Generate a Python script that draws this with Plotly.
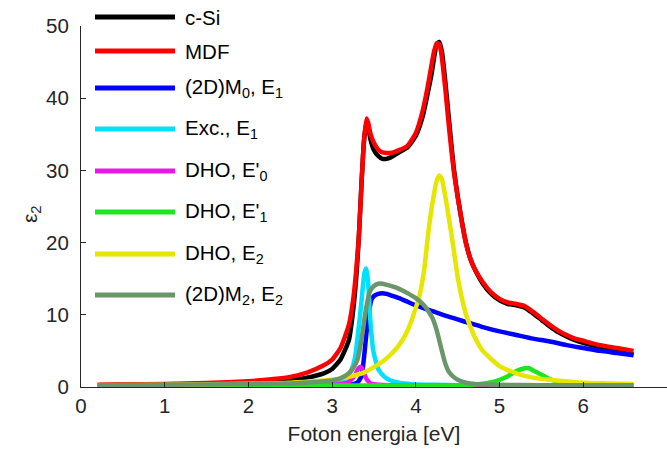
import plotly.graph_objects as go

# ---------------- data ----------------
x_mdf = [0.2,0.5,1.0,1.5,2.0,2.3,2.5,2.7,2.9,3.0,3.1,3.2,3.25,3.29,3.32,3.35,3.38,3.41,3.43,3.46,3.5,3.55,3.6,3.7,3.8,3.9,4.0,4.08,4.14,4.19,4.22,4.25,4.28,4.31,4.35,4.4,4.45,4.5,4.55,4.6,4.65,4.7,4.8,4.9,5.0,5.1,5.2,5.3,5.4,5.5,5.6,5.7,5.8,5.9,6.0,6.2,6.4,6.6]
y_mdf = [0.3,0.35,0.4,0.55,0.8,1.1,1.4,2.0,3.0,3.8,5.4,8.6,12.0,16.5,21.0,28.0,34.0,37.2,36.6,35.0,33.8,32.9,32.5,32.4,32.8,33.4,35.2,38.2,41.5,44.8,46.6,47.6,47.5,45.7,41.5,35.5,30.2,26.3,22.8,19.8,17.8,16.4,14.5,13.1,12.2,11.7,11.5,11.2,10.4,9.5,8.6,7.8,7.2,6.7,6.4,5.8,5.4,5.0]

x_csi = [0.2,0.5,1.0,1.5,2.0,2.3,2.5,2.7,2.9,3.0,3.1,3.2,3.25,3.29,3.32,3.35,3.38,3.41,3.43,3.46,3.5,3.55,3.6,3.65,3.7,3.8,3.9,4.0,4.08,4.14,4.19,4.22,4.25,4.28,4.31,4.35,4.4,4.45,4.5,4.55,4.6,4.65,4.7,4.8,4.9,5.0,5.1,5.2,5.3,5.4,5.5,5.6,5.7,5.8,5.9,6.0,6.2,6.4,6.6]
y_csi = [0.25,0.3,0.35,0.4,0.5,0.7,0.9,1.3,1.9,2.5,3.8,6.5,10.5,15.5,21.0,28.0,34.0,36.8,36.0,34.2,32.8,32.0,31.6,31.6,31.8,32.5,33.2,34.8,37.4,40.6,43.5,45.8,47.5,47.8,46.5,42.5,36.5,30.6,26.4,22.9,19.9,17.8,16.4,14.3,12.9,12.0,11.5,11.3,11.0,10.2,9.3,8.4,7.6,7.0,6.5,6.1,5.5,5.0,4.5]

x_m0 = [0.2,1.0,2.0,2.5,3.0,3.2,3.3,3.35,3.38,3.41,3.44,3.47,3.5,3.55,3.6,3.65,3.7,3.8,3.9,4.0,4.2,4.4,4.6,4.8,5.0,5.2,5.4,5.6,5.8,6.0,6.2,6.4,6.6]
y_m0 = [0.2,0.2,0.2,0.2,0.25,0.3,0.6,1.5,4.0,7.5,10.4,12.1,12.6,12.9,13.0,12.9,12.7,12.3,11.8,11.3,10.5,9.7,9.0,8.3,7.7,7.2,6.7,6.3,5.8,5.4,5.0,4.7,4.4]

x_exc = [0.2,1.0,2.0,2.5,2.8,3.0,3.1,3.15,3.2,3.25,3.28,3.31,3.34,3.37,3.39,3.41,3.43,3.45,3.47,3.49,3.52,3.55,3.6,3.65,3.7,3.8,3.9,4.0,4.2,4.5,5.0,5.5,6.0,6.6]
y_exc = [0.2,0.2,0.25,0.3,0.4,0.5,0.8,1.1,1.7,3.0,4.6,7.5,10.6,14.3,16.0,16.4,14.5,10.2,7.3,5.1,3.6,2.5,1.7,1.2,0.9,0.6,0.45,0.35,0.3,0.25,0.25,0.25,0.25,0.25]

x_e0p = [0.2,1.0,2.0,2.5,3.0,3.15,3.22,3.27,3.31,3.34,3.37,3.41,3.46,3.55,3.7,4.0,5.0,6.6]
y_e0p = [0.2,0.2,0.2,0.2,0.3,0.5,0.9,1.6,2.5,2.8,2.3,1.1,0.5,0.3,0.25,0.2,0.2,0.2]

x_e1p = [0.2,1.0,2.0,3.0,4.0,4.5,4.7,4.8,4.9,5.0,5.1,5.2,5.3,5.35,5.4,5.5,5.6,5.7,5.8,6.0,6.3,6.6]
y_e1p = [0.2,0.2,0.2,0.2,0.2,0.25,0.35,0.45,0.65,1.0,1.5,2.2,2.6,2.6,2.3,1.7,1.1,0.65,0.4,0.3,0.25,0.25]

x_e2 = [0.2,1.0,2.0,2.5,3.0,3.2,3.4,3.6,3.7,3.8,3.9,4.0,4.05,4.1,4.15,4.2,4.25,4.28,4.31,4.35,4.4,4.45,4.5,4.55,4.6,4.7,4.8,5.0,5.2,5.4,5.6,6.0,6.3,6.6]
y_e2 = [0.25,0.3,0.45,0.6,1.0,1.4,2.1,3.5,4.5,5.8,7.8,11.0,13.0,16.3,21.5,25.6,28.6,29.3,28.8,26.5,23.0,19.2,15.2,12.3,10.0,7.0,5.0,2.9,1.9,1.3,1.0,0.6,0.5,0.4]

x_m2 = [0.2,1.0,2.0,2.5,2.8,3.0,3.1,3.2,3.25,3.3,3.35,3.4,3.45,3.5,3.55,3.6,3.7,3.8,3.9,4.0,4.1,4.15,4.2,4.25,4.3,4.35,4.4,4.45,4.5,4.6,4.7,5.0,5.5,6.0,6.6]
y_m2 = [0.25,0.3,0.4,0.5,0.7,0.9,1.2,1.9,2.6,3.7,6.5,10.5,13.2,14.0,14.3,14.3,14.0,13.6,13.0,12.3,11.3,10.5,9.5,7.8,5.5,3.3,2.0,1.4,1.0,0.6,0.4,0.3,0.25,0.25,0.25]

names = ["c-Si", "MDF", "(2D)M<sub>0</sub>, E<sub>1</sub>", "Exc., E<sub>1</sub>",
         "DHO, E'<sub>0</sub>", "DHO, E'<sub>1</sub>", "DHO, E<sub>2</sub>",
         "(2D)M<sub>2</sub>, E<sub>2</sub>"]
colors = ["#000000", "#ff0000", "#0000ff", "#00e0ff", "#e61ae6", "#1ee61e", "#e6e600", "#6b966b"]
xs = [x_csi, x_mdf, x_m0, x_exc, x_e0p, x_e1p, x_e2, x_m2]
ys = [y_csi, y_mdf, y_m0, y_exc, y_e0p, y_e1p, y_e2, y_m2]

x_ticks = [0, 1, 2, 3, 4, 5, 6, 7]
y_ticks = [0, 10, 20, 30, 40, 50]

# ---------------- figure ----------------
W, H = 667, 452
ML, MR, MT, MB = 81, 0, 26, 65
FONT = "Liberation Sans, Arial, sans-serif"

fig = go.Figure()
for xv, yv, nm, c in zip(xs, ys, names, colors):
    fig.add_trace(go.Scatter(x=xv, y=yv, mode="lines", name=nm,
                             line=dict(color=c, width=4.5, shape="spline", smoothing=0.5),
                             showlegend=False))

# custom legend (MATLAB-like long line samples, no box)
row_px = [17, 51, 88, 129, 171, 212, 254, 295]
ph = H - MT - MB
pw = W - ML - MR
lx0 = (95 - ML) / pw
lx1 = (175 - ML) / pw
tx = (183 - ML) / pw
shapes = []
annos = []
for py, nm, c in zip(row_px, names, colors):
    yy = (H - MB - py) / ph
    shapes.append(dict(type="line", xref="paper", yref="paper", x0=lx0, x1=lx1, y0=yy, y1=yy,
                       line=dict(color=c, width=5)))
    annos.append(dict(text=nm, xref="paper", yref="paper", x=tx, y=yy, xanchor="left",
                      yanchor="middle", showarrow=False,
                      font=dict(family=FONT, size=20.5, color="#000000")))

annos.append(dict(text="ε<sub>2</sub>", xref="paper", yref="paper", x=(31 - ML) / pw,
                  y=(H - MB - 214) / ph, xanchor="center", yanchor="middle", textangle=-90,
                  showarrow=False, font=dict(family=FONT, size=21, color="#262626")))

fig.update_layout(
    width=W, height=H,
    margin=dict(l=ML, r=MR, t=MT, b=MB),
    paper_bgcolor="white", plot_bgcolor="white",
    font=dict(family=FONT, size=20, color="#262626"),
    shapes=shapes, annotations=annos,
    showlegend=False,
)
fig.update_xaxes(range=[0, 7], tickvals=x_ticks, ticks="inside", ticklen=5, tickcolor="#262626",
                 showline=True, linecolor="#262626", linewidth=1, showgrid=False, zeroline=False,
                 tickfont=dict(size=20.5),
                 title=dict(text="Foton energia [eV]", font=dict(size=21), standoff=10))
fig.update_yaxes(range=[0, 50], tickvals=y_ticks, ticks="inside", ticklen=5, tickcolor="#262626",
                 showline=True, linecolor="#262626", linewidth=1, showgrid=False, zeroline=False,
                 tickfont=dict(size=20.5), ticklabelstandoff=7)

fig.write_html("out.html")
